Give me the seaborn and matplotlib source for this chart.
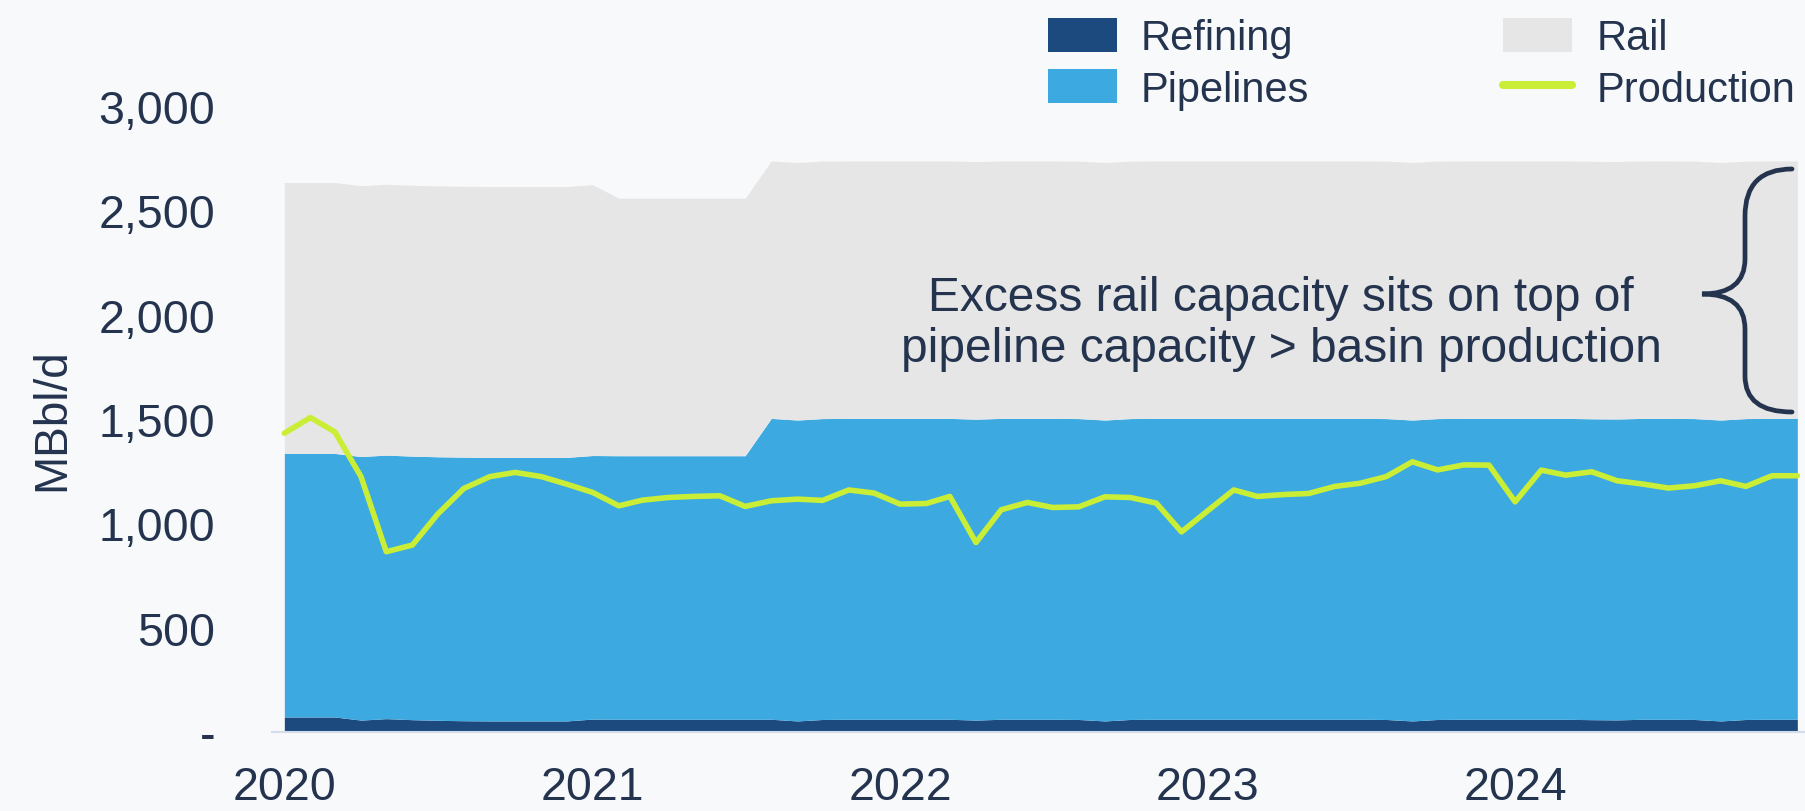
import pandas as pd
import matplotlib.pyplot as plt
import matplotlib.dates as mdates
from matplotlib.path import Path
from matplotlib.patches import PathPatch
from matplotlib.lines import Line2D
from matplotlib.ticker import FuncFormatter, FixedLocator
import seaborn as sns

sns.set_theme(style="white")
plt.rcParams['font.family'] = ['Liberation Sans', 'DejaVu Sans']

# monthly data, Jan 2020 - Dec 2024 (MBbl/d)
months = pd.date_range("2020-01-01", periods=60, freq="MS") + pd.Timedelta(days=15)

refining = [72, 72, 72, 57, 64, 59, 56, 54, 53, 53, 53, 53,
            62, 61, 61, 61, 61, 61, 61, 61, 53, 60, 61, 61,
            61, 61, 61, 57, 61, 61, 61, 60, 53, 60, 61, 61,
            61, 61, 61, 61, 61, 61, 61, 60, 53, 60, 61, 61,
            61, 61, 61, 59, 58, 61, 61, 60, 53, 60, 61, 61]

pipelines = [1263, 1263, 1263, 1263, 1263, 1263, 1263, 1263, 1263, 1263, 1263, 1263,
             1263, 1263, 1263, 1263, 1263, 1263, 1263, 1442, 1442, 1442, 1442, 1442,
             1442, 1442, 1442, 1442, 1442, 1442, 1442, 1442, 1442, 1442, 1442, 1442,
             1442, 1442, 1442, 1442, 1442, 1442, 1442, 1442, 1442, 1442, 1442, 1442,
             1442, 1442, 1442, 1442, 1442, 1442, 1442, 1442, 1442, 1442, 1442, 1442]

rail = [1298, 1298, 1298, 1298, 1298, 1298, 1298, 1298, 1298, 1298, 1298, 1298,
        1298, 1234, 1234, 1234, 1234, 1234, 1234, 1234, 1234, 1234, 1234, 1234,
        1234, 1234, 1234, 1234, 1234, 1234, 1234, 1234, 1234, 1234, 1234, 1234,
        1234, 1234, 1234, 1234, 1234, 1234, 1234, 1234, 1234, 1234, 1234, 1234,
        1234, 1234, 1234, 1234, 1234, 1234, 1234, 1234, 1234, 1234, 1234, 1234]

production = [1432, 1507, 1438, 1224, 864, 896, 1044, 1167, 1224, 1244, 1224, 1188,
              1148, 1084, 1111, 1124, 1129, 1132, 1081, 1108, 1116, 1110, 1160, 1145,
              1092, 1095, 1129, 908, 1065, 1100, 1076, 1079, 1127, 1124, 1097, 959,
              1060, 1160, 1129, 1138, 1143, 1177, 1192, 1224, 1295, 1256, 1280, 1279,
              1103, 1255, 1231, 1247, 1204, 1188, 1169, 1180, 1204, 1177, 1228, 1228]

years = ["2020", "2021", "2022", "2023", "2024"]
y_ticks = [0, 500, 1000, 1500, 2000, 2500, 3000]

BG = '#F8F9FB'
NAVY = '#24344F'
C_REF = '#1D4A7E'
C_PIPE = '#3CAAE1'
C_RAIL = '#E6E6E6'
C_PROD = '#C9EE35'
C_AXIS = '#D3DCE8'

W, H = 1806, 812
fig = plt.figure(figsize=(W / 100, H / 100), dpi=100, facecolor=BG)
ax = fig.add_axes([271.7 / W, (H - 733) / H, (W - 271.7) / W, 626 / H])
ax.set_facecolor(BG)

x = mdates.date2num(months.to_pydatetime())
polys = ax.stackplot(x, refining, pipelines, rail,
                     colors=[C_REF, C_PIPE, C_RAIL], linewidth=0,
                     labels=['Refining', 'Pipelines', 'Rail'])
sns.lineplot(x=x, y=production, ax=ax, color=C_PROD, linewidth=4, legend=False)

x0 = mdates.date2num(pd.Timestamp("2020-01-01"))
ax.set_xlim(x0, x0 + 1821.3)
ax.set_ylim(0, 3000)

# year labels sit under the first month, ticks at Jan 1
ax.xaxis.set_major_locator(FixedLocator(x[::12]))
ax.set_xticklabels(years)
jan1 = mdates.date2num(pd.to_datetime([f"{y}-01-01" for y in years]).to_pydatetime())
ax.xaxis.set_minor_locator(FixedLocator(jan1))
ax.tick_params(axis='x', which='major', length=0, pad=24, labelsize=33.5, labelcolor=NAVY)
ax.tick_params(axis='x', which='minor', length=10.8, width=1.2, color=C_AXIS, direction='out')

ax.set_yticks(y_ticks)
ax.yaxis.set_major_formatter(FuncFormatter(lambda v, p: '-' if v == 0 else f'{v:,.0f}'))
ax.tick_params(axis='y', length=0, pad=40.8, labelsize=33.5, labelcolor=NAVY)
ax.set_ylabel('MBbl/d', fontsize=33, color=NAVY)
ax.yaxis.set_label_coords(-0.129, 0.5)
ax.set_xlabel('')

for s in ['top', 'right', 'left']:
    ax.spines[s].set_visible(False)
ax.spines['bottom'].set_color(C_AXIS)
ax.spines['bottom'].set_linewidth(1.5)

prod_handle = Line2D([], [], color=C_PROD, linewidth=5.8)
fig.legend(handles=[polys[0], polys[1], polys[2], prod_handle],
           labels=['Refining', 'Pipelines', 'Rail', 'Production'],
           ncol=2, loc='upper left', bbox_to_anchor=(1048 / W, 1 - 19 / H),
           frameon=False, fontsize=30, labelcolor=NAVY,
           handlelength=1.65, handleheight=0.875, handletextpad=0.58,
           columnspacing=4.66, labelspacing=0.26, borderpad=0, borderaxespad=0)

fig.text(1281 / W, 1 - 324 / H,
         "Excess rail capacity sits on top of\npipeline capacity > basin production",
         ha='center', va='center', fontsize=34.5, color=NAVY, linespacing=1.15)

# curly brace marking the rail band
def px(xp, yp):
    return (xp / W, 1 - yp / H)

verts = [px(1792, 170), px(1745, 170), px(1745, 217),
         px(1745, 260),
         px(1745, 295), px(1702, 295),
         px(1745, 295), px(1745, 330),
         px(1745, 377),
         px(1745, 413), px(1792, 413)]
codes = [Path.MOVETO, Path.CURVE3, Path.CURVE3,
         Path.LINETO,
         Path.CURVE3, Path.CURVE3,
         Path.CURVE3, Path.CURVE3,
         Path.LINETO,
         Path.CURVE3, Path.CURVE3]
fig.add_artist(PathPatch(Path(verts, codes), transform=fig.transFigure,
                         facecolor='none', edgecolor=NAVY, linewidth=3.4,
                         capstyle='round'))

fig.savefig("out.png", dpi=100, facecolor=BG)
